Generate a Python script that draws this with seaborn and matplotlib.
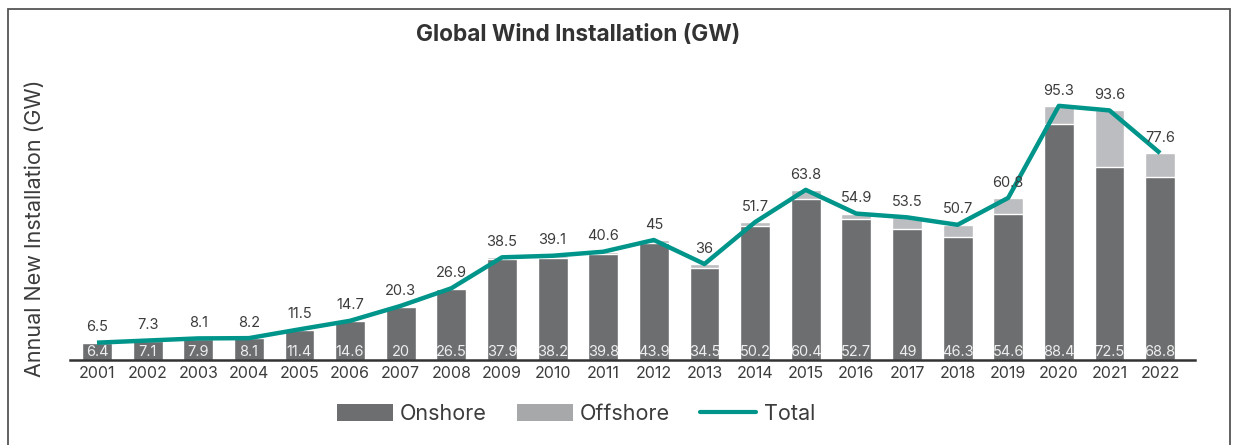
import numpy as np
import pandas as pd
import matplotlib
matplotlib.use("Agg")
import matplotlib.pyplot as plt
from matplotlib.patches import Rectangle, Patch
from matplotlib.lines import Line2D
import seaborn as sns

years = ["2001", "2002", "2003", "2004", "2005", "2006", "2007", "2008", "2009", "2010", "2011",
         "2012", "2013", "2014", "2015", "2016", "2017", "2018", "2019", "2020", "2021", "2022"]
onshore = [6.4, 7.1, 7.9, 8.1, 11.4, 14.6, 20, 26.5, 37.9, 38.2, 39.8,
           43.9, 34.5, 50.2, 60.4, 52.7, 49, 46.3, 54.6, 88.4, 72.5, 68.8]
total = [6.5, 7.3, 8.1, 8.2, 11.5, 14.7, 20.3, 26.9, 38.5, 39.1, 40.6,
         45, 36, 51.7, 63.8, 54.9, 53.5, 50.7, 60.8, 95.3, 93.6, 77.6]
offshore = [round(t - o, 1) for t, o in zip(total, onshore)]

ON_C = "#6d6e70"
OFF_C = "#bcbdc0"
LINE_C = "#00958a"
TXT = "#3c3c3c"

sns.set_theme(style="white")
plt.rcParams['font.family'] = ['Inter', 'DejaVu Sans']

W, H = 1233, 445
fig = plt.figure(figsize=(W / 100, H / 100), dpi=100)
ax = fig.add_axes([70 / W, (H - 360) / H, (1195 - 70) / W, (360 - 80) / H])

df = pd.DataFrame({"year": years, "onshore": onshore, "offshore": offshore, "total": total})
df["stack"] = df["onshore"] + df["offshore"]

sns.barplot(data=df, x="year", y="stack", color=OFF_C, saturation=1, width=0.59, ax=ax)
sns.barplot(data=df, x="year", y="onshore", color=ON_C, saturation=1, width=0.59, ax=ax)
ax.plot(np.arange(len(years)), df["total"], color=LINE_C, lw=3.2, solid_capstyle="butt", zorder=5)

for i, (o, t) in enumerate(zip(onshore, total)):
    ax.annotate(f"{t:g}", (i, t), xytext=(0, 6), textcoords="offset points",
                ha="center", va="bottom", fontsize=10.5, color=TXT, zorder=6)
    ax.annotate(f"{o:g}", (i, 0), xytext=(0, 1), textcoords="offset points",
                ha="center", va="bottom", fontsize=10.5, color="#eeeeee", zorder=6)

ax.set_xlim(-0.533, 21.69)
ax.set_ylim(0, 105)
ax.set_yticks([])
ax.set_xlabel("")
ax.set_ylabel("")
for s in ["top", "right", "left"]:
    ax.spines[s].set_visible(False)
ax.spines["bottom"].set_color("#333333")
ax.spines["bottom"].set_linewidth(1.8)
ax.tick_params(axis="x", length=0, pad=4, labelsize=11.5, labelcolor=TXT)

fig.text(35 / W, (H - 228) / H, "Annual New Installation (GW)", rotation=90,
         ha="center", va="center", fontsize=15.5, color=TXT)
fig.text(578 / W, 1 - 35 / H, "Global Wind Installation (GW)", ha="center", va="center",
         fontsize=16.3, fontweight="bold", color="#333333")

handles = [Patch(facecolor=ON_C, edgecolor="none"),
           Patch(facecolor="#a7a8aa", edgecolor="none"),
           Line2D([0], [0], color=LINE_C, lw=3)]
fig.legend(handles, ["Onshore", "Offshore", "Total"], loc="center", ncol=3,
           bbox_to_anchor=(576 / W, 1 - 414 / H), frameon=False, fontsize=15.5,
           handlelength=2.6, handleheight=0.8, handletextpad=0.33, columnspacing=1.4,
           labelcolor=TXT)

fig.patches.append(Rectangle((8 / W, -0.1), (1230 - 8) / W, (H - 9) / H + 0.1,
                             transform=fig.transFigure, fill=False,
                             edgecolor="#555555", lw=1.3))

fig.savefig("out.png", dpi=100)
